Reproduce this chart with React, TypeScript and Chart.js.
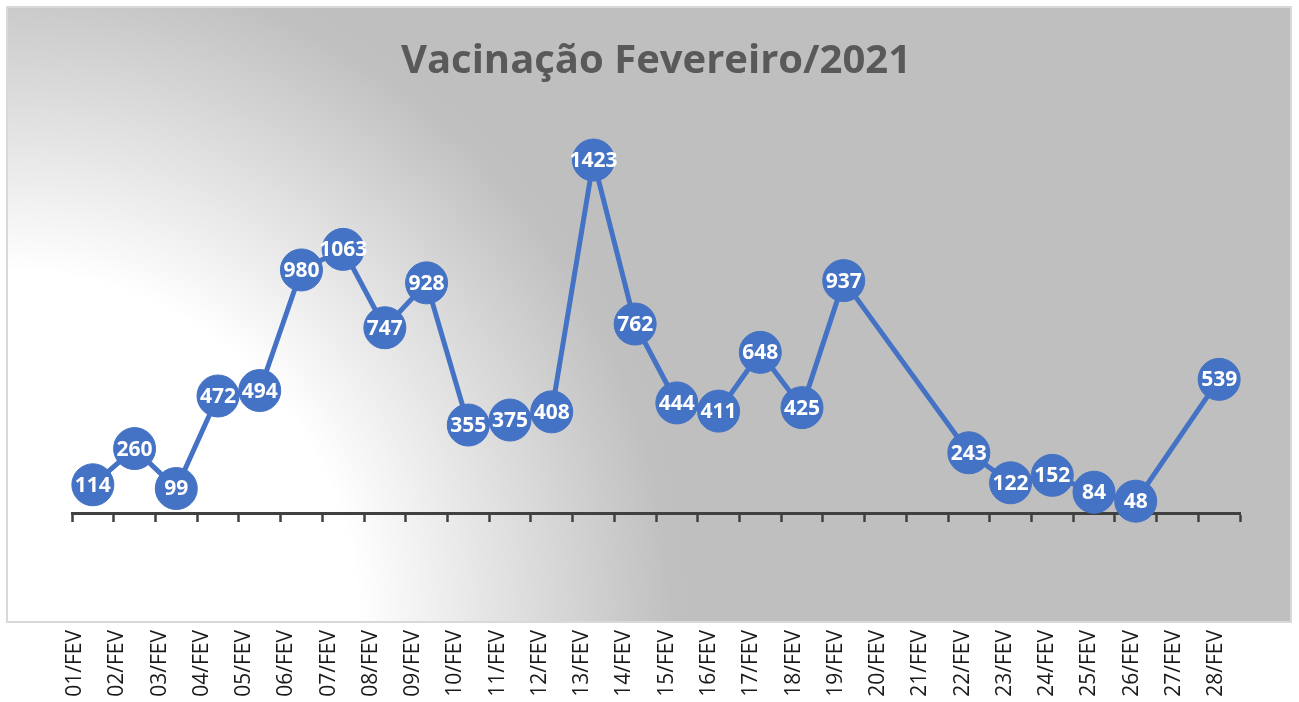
import React, { useEffect, useRef } from "react";
import { Chart, registerables } from "chart.js";

Chart.register(...registerables);

const chartTitle = "Vacinação Fevereiro/2021";

const dayLabels = [
  "01/FEV", "02/FEV", "03/FEV", "04/FEV", "05/FEV", "06/FEV", "07/FEV",
  "08/FEV", "09/FEV", "10/FEV", "11/FEV", "12/FEV", "13/FEV", "14/FEV",
  "15/FEV", "16/FEV", "17/FEV", "18/FEV", "19/FEV", "20/FEV", "21/FEV",
  "22/FEV", "23/FEV", "24/FEV", "25/FEV", "26/FEV", "27/FEV", "28/FEV",
];

const vaccinations: (number | null)[] = [
  114, 260, 99, 472, 494, 980, 1063, 747, 928, 355, 375, 408, 1423, 762,
  444, 411, 648, 425, 937, null, null, 243, 122, 152, 84, 48, null, 539,
];

const BLUE = "#4472C4";
const AXIS = "#404040";

const backgroundPlugin = {
  id: "panelBackground",
  beforeDraw(chart: any) {
    const { ctx, width, height } = chart;
    ctx.save();
    ctx.fillStyle = "#ffffff";
    ctx.fillRect(0, 0, width, height);
    const x0 = 7, y0 = 7, x1 = 1291, y1 = 622;
    const g = ctx.createRadialGradient(x0, y1, 0, x0, y1, 700);
    g.addColorStop(0, "#ffffff");
    g.addColorStop(0.5, "#ffffff");
    g.addColorStop(0.75, "#dcdcdc");
    g.addColorStop(0.95, "#c0c0c0");
    g.addColorStop(1, "#bfbfbf");
    ctx.fillStyle = g;
    ctx.fillRect(x0, y0, x1 - x0, y1 - y0);
    ctx.strokeStyle = "#d9d9d9";
    ctx.lineWidth = 2;
    ctx.strokeRect(x0, y0, x1 - x0, y1 - y0);
    ctx.restore();
  },
};

const valueLabelPlugin = {
  id: "valueLabels",
  afterDatasetsDraw(chart: any) {
    const { ctx } = chart;
    const meta = chart.getDatasetMeta(0);
    ctx.save();
    ctx.font = "bold 21px 'Open Sans', sans-serif";
    ctx.fillStyle = "#ffffff";
    ctx.textAlign = "center";
    ctx.textBaseline = "middle";
    meta.data.forEach((pt: any, i: number) => {
      const v = vaccinations[i];
      if (v == null) return;
      ctx.fillText(String(v), pt.x, pt.y + 1);
    });
    ctx.restore();
  },
};

export default function App() {
  const canvasRef = useRef<HTMLCanvasElement | null>(null);

  useEffect(() => {
    document.body.style.margin = "0";
    const canvas = canvasRef.current;
    if (!canvas) return;
    const chart = new Chart(canvas, {
      type: "line",
      data: {
        labels: dayLabels,
        datasets: [
          {
            data: vaccinations,
            borderColor: BLUE,
            backgroundColor: BLUE,
            borderWidth: 5,
            tension: 0,
            spanGaps: true,
            pointRadius: 21,
            pointHoverRadius: 21,
            pointBackgroundColor: BLUE,
            pointBorderColor: BLUE,
            pointBorderWidth: 1,
            xAxisID: "x",
            yAxisID: "y",
          },
        ],
      },
      options: {
        animation: false,
        responsive: false,
        events: [],
        layout: { padding: { left: 72, right: 59, top: 0, bottom: 0 } },
        plugins: {
          legend: { display: false },
          tooltip: { enabled: false },
          title: {
            display: true,
            text: chartTitle,
            color: "#595959",
            font: { family: "'Open Sans', sans-serif", size: 40, weight: "bold" },
            padding: { top: 38, bottom: 16 },
          },
        },
        scales: {
          x: {
            type: "category",
            position: { y: 0 } as any,
            offset: true,
            ticks: { display: false },
            grid: {
              display: true,
              drawOnChartArea: false,
              drawTicks: true,
              tickLength: 7,
              tickColor: AXIS,
              tickWidth: 2.5,
              offset: true,
            },
            border: { display: true, color: AXIS, width: 3 },
          },
          xl: {
            type: "linear",
            position: "bottom",
            min: -0.071,
            max: 27.561,
            afterBuildTicks: (scale: any) => {
              scale.ticks = dayLabels.map((_, i) => ({ value: i }));
            },
            afterFit: (scale: any) => {
              scale.height = 82;
            },
            ticks: {
              autoSkip: false,
              maxRotation: 90,
              minRotation: 90,
              padding: 10,
              color: "#1a1a1a",
              font: { family: "'Open Sans', sans-serif", size: 21 },
              callback: (_v: any, i: number) => dayLabels[i],
            },
            grid: { display: false, drawTicks: false },
            border: { display: false },
          },
          y: {
            display: false,
            min: -431,
            max: 1657,
          },
        },
      },
      plugins: [backgroundPlugin, valueLabelPlugin],
    });
    return () => chart.destroy();
  }, []);

  return (
    <div style={{ width: 1299, height: 702 }}>
      <canvas ref={canvasRef} width={1299} height={702} style={{ display: "block" }} />
    </div>
  );
}
